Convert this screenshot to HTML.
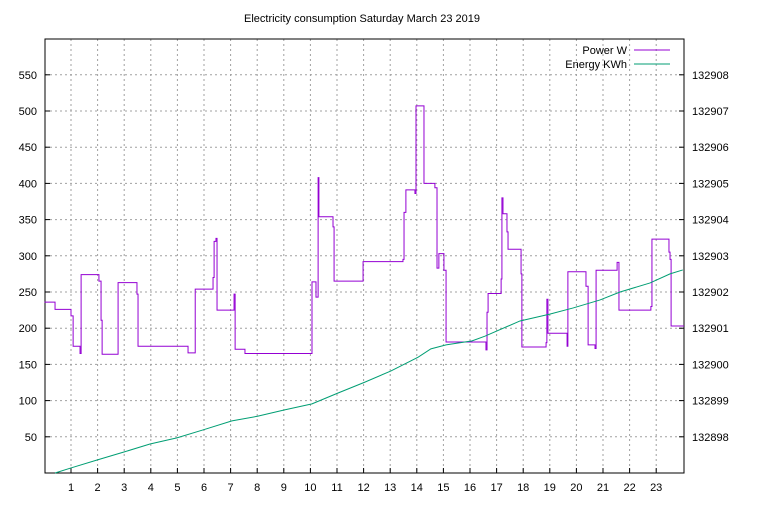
<!DOCTYPE html>
<html><head><meta charset="utf-8"><style>
body{margin:0;background:#fff}
svg{font-family:"Liberation Sans","DejaVu Sans",sans-serif;font-size:11px}
</style></head><body>
<svg id="c" width="768" height="500" xmlns="http://www.w3.org/2000/svg">
<rect width="768" height="500" fill="#fff"/>
<text x="362" y="22" text-anchor="middle">Electricity consumption Saturday March 23 2019</text>
<g id="grid"></g><g id="axes"></g><g id="series"></g>
<g>
<text x="627" y="54" text-anchor="end">Power W</text>
<line x1="634" y1="50" x2="670" y2="50" stroke="#9400d3"/>
<text x="627" y="68" text-anchor="end">Energy KWh</text>
<line x1="634" y1="64" x2="670" y2="64" stroke="#009e73"/>
</g>
</svg>
<script>
const powerHours=[0,0.40,1.0,1.08,1.34,1.38,2.05,2.13,2.17,2.77,3.48,3.52,5.40,5.67,6.34,6.38,6.45,6.49,7.13,7.17,7.54,10.06,10.21,10.29,10.32,10.85,10.89,11.98,13.48,13.52,13.59,13.93,13.97,14.27,14.68,14.76,14.83,15.02,15.1,16.6,16.64,16.68,17.17,17.2,17.24,17.39,17.43,17.92,17.95,18.86,18.89,18.93,19.65,19.68,20.36,20.44,20.7,20.74,21.53,21.6,22.8,22.84,23.48,23.52,23.56];
const powerValues=[236,226,217,175,165,274,265,211,164,263,247,175,166,254,270,320,324,225,247,171,165,264,243,408,354,340,265,292,295,360,391,386,507,400,394,283,303,280,181,170,222,248,268,380,358,333,309,275,174,180,240,193,175,278,258,177,172,280,291,225,230,323,305,295,203];
const energyHours=[0.40,1.0,1.98,2.99,3.97,4.98,5.96,7.05,8.03,9.01,10.06,11.04,12.05,13.03,14.05,14.53,15.1,16.08,16.56,17.88,19.0,19.88,20.89,21.64,22.77,23.52,24];
const energyValues=[132897.0,132897.14,132897.36,132897.58,132897.80,132897.97,132898.19,132898.44,132898.57,132898.74,132898.91,132899.21,132899.51,132899.82,132900.20,132900.43,132900.54,132900.65,132900.78,132901.20,132901.39,132901.56,132901.78,132902.00,132902.25,132902.50,132902.61];
const xTicks=[1,2,3,4,5,6,7,8,9,10,11,12,13,14,15,16,17,18,19,20,21,22,23];
const yTicks=[50,100,150,200,250,300,350,400,450,500,550];
const y2Ticks=[132898,132899,132900,132901,132902,132903,132904,132905,132906,132907,132908];
const L=45,R=684,T=39,B=473;
const X=h=>44.4+h*26.6;
const Y=v=>B-v*0.724;
const Y2=v=>B-(v-132897)*36.2;
const NS="http://www.w3.org/2000/svg";
function mk(p,tag,a){const e=document.createElementNS(NS,tag);for(const k in a)e.setAttribute(k,a[k]);p.appendChild(e);return e;}
const grid=document.getElementById('grid'),axes=document.getElementById('axes'),series=document.getElementById('series');
xTicks.forEach(t=>{const x=X(t);
const g=mk(grid,'line',{x1:x,y1:T,x2:x,y2:B,stroke:'#a0a0a0','stroke-dasharray':'2,3'});


const tk=mk(axes,'line',{x1:x,y1:B,x2:x,y2:B-5,stroke:'#000'});


const tx=mk(axes,'text',{x:x,y:491,'text-anchor':'middle'});tx.textContent=t;

});
yTicks.forEach(t=>{const y=Y(t);
const g=mk(grid,'line',{x1:L,y1:y,x2:R,y2:y,stroke:'#a0a0a0','stroke-dasharray':'2,3'});


const tk=mk(axes,'line',{x1:L,y1:y,x2:L+5,y2:y,stroke:'#000'});


const tx=mk(axes,'text',{x:37,y:y+4,'text-anchor':'end'});tx.textContent=t;

});
y2Ticks.forEach(t=>{const y=Y2(t);
const tk=mk(axes,'line',{x1:R,y1:y,x2:R-5,y2:y,stroke:'#000'});


const tx=mk(axes,'text',{x:692,y:y+4});tx.textContent=t;

});
const fr=mk(axes,'rect',{x:L,y:T,width:R-L,height:B-T,fill:'none',stroke:'#000'});


let d='';
powerHours.forEach((h,i)=>{const x=X(h),y=Y(powerValues[i]);
if(i===0)d+='M'+x+' '+y;else d+='H'+x+'V'+y;});
d+='H'+R;
const pp=mk(series,'path',{d:d,fill:'none',stroke:'#9400d3','stroke-width':1});


const ep=mk(series,'polyline',{points:energyHours.map((h,i)=>X(h)+','+Y2(energyValues[i])).join(' '),fill:'none',stroke:'#009e73','stroke-width':1});


</script>
</body></html>
